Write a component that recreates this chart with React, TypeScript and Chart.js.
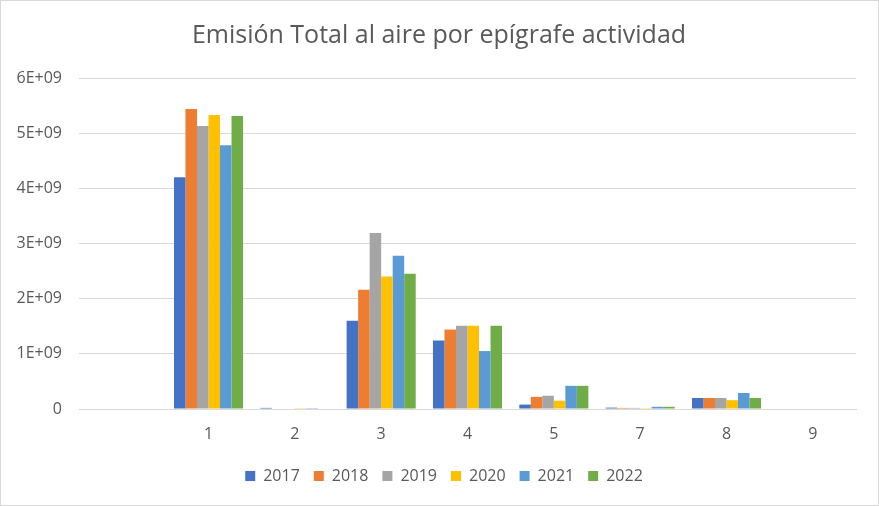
import React, { useEffect, useRef } from "react";
import { Chart, registerables } from "chart.js";

Chart.register(...registerables);

const categories = ["", "1", "2", "3", "4", "5", "7", "8", "9"];
const years = ["2017", "2018", "2019", "2020", "2021", "2022"];
const colors = ["#4472c4", "#ed7d31", "#a5a5a5", "#ffc000", "#5b9bd5", "#70ad47"];

const s2017 = [null, 4.2e9, 0.02e9, 1.6e9, 1.24e9, 0.08e9, 0.025e9, 0.2e9, 0];
const s2018 = [null, 5.44e9, 0, 2.16e9, 1.44e9, 0.22e9, 0.02e9, 0.2e9, 0];
const s2019 = [null, 5.13e9, 0, 3.19e9, 1.51e9, 0.24e9, 0.02e9, 0.2e9, 0];
const s2020 = [null, 5.33e9, 0.015e9, 2.4e9, 1.51e9, 0.15e9, 0.015e9, 0.16e9, 0];
const s2021 = [null, 4.78e9, 0.015e9, 2.78e9, 1.05e9, 0.42e9, 0.04e9, 0.29e9, 0];
const s2022 = [null, 5.31e9, 0, 2.45e9, 1.51e9, 0.42e9, 0.04e9, 0.2e9, 0];
const series = [s2017, s2018, s2019, s2020, s2021, s2022];

const yTicks = ["0", "1E+09", "2E+09", "3E+09", "4E+09", "5E+09", "6E+09"];

const FONT = "'Open Sans', sans-serif";
const TEXT = "#595959";
const GRID = "#d9d9d9";

const borderPlugin = {
  id: "outerBorder",
  afterLayout(chart: any) {
    if (chart.legend) {
      chart.legend.left += 16;
      chart.legend.right += 16;
    }
    if (chart.titleBlock) {
      chart.titleBlock.left += 11;
      chart.titleBlock.right += 11;
    }
  },
  afterDraw(chart: any) {
    const ctx = chart.ctx;
    ctx.save();
    ctx.strokeStyle = GRID;
    ctx.lineWidth = 1;
    ctx.strokeRect(0.5, 0.5, chart.width - 1, chart.height - 1);
    ctx.restore();
  },
};

export default function App() {
  const ref = useRef<HTMLCanvasElement>(null);
  useEffect(() => {
    if (!ref.current) return;
    const chart = new Chart(ref.current, {
      type: "bar",
      data: {
        labels: categories,
        datasets: years.map((y, i) => ({
          label: y,
          data: series[i] as any,
          backgroundColor: colors[i],
          borderWidth: 0,
          barPercentage: 1,
          categoryPercentage: 0.8,
        })),
      },
      options: {
        responsive: false,
        animation: false,
        layout: { padding: { left: 0, right: 23, top: 0, bottom: 12 } },
        plugins: {
          title: {
            display: true,
            text: "Emisión Total al aire por epígrafe actividad",
            color: TEXT,
            font: { family: FONT, size: 25, weight: "normal" as any },
            padding: { top: 21, bottom: 27 },
          },
          legend: {
            position: "bottom",
            labels: {
              color: TEXT,
              font: { family: FONT, size: 16 },
              boxWidth: 10,
              boxHeight: 10,
              padding: 14,
            },
          },
          tooltip: { enabled: false },
        },
        scales: {
          x: {
            grid: { display: false, drawTicks: false },
            border: { display: true, color: GRID },
            ticks: { color: TEXT, font: { family: FONT, size: 16 }, padding: 16 },
            afterFit(scale: any) {
              scale.height = 45;
            },
          },
          y: {
            min: 0,
            max: 6e9,
            grid: { color: GRID, drawTicks: false },
            border: { display: false },
            ticks: {
              stepSize: 1e9,
              color: TEXT,
              font: { family: FONT, size: 16 },
              padding: 17,
              callback: (v: any) => yTicks[Math.round(Number(v) / 1e9)],
            },
            afterFit(scale: any) {
              scale.width = 79;
            },
          },
        },
      },
      plugins: [borderPlugin],
    });
    return () => chart.destroy();
  }, []);
  return (
    <div style={{ position: "fixed", left: 0, top: 0, width: 879, height: 506, background: "#fff" }}>
      <canvas ref={ref} width={879} height={506} />
    </div>
  );
}
